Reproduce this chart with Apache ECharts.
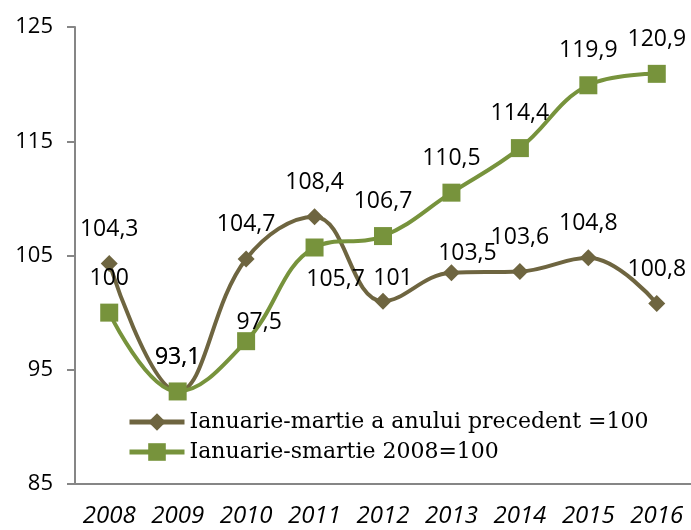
<!DOCTYPE html>
<html>
<head>
<meta charset="utf-8">
<script src="https://cdn.jsdelivr.net/npm/echarts@6/dist/echarts.min.js"></script>
<style>
html, body { margin: 0; padding: 0; background: #fff; }
#chart { width: 691px; height: 530px; }
</style>
</head>
<body>
<div id="chart"></div>
<script>
var years = ["2008", "2009", "2010", "2011", "2012", "2013", "2014", "2015", "2016"];
var prevYear = [104.3, 93.1, 104.7, 108.4, 101, 103.5, 103.6, 104.8, 100.8];
var base2008 = [100, 93.1, 97.5, 105.7, 106.7, 110.5, 114.4, 119.9, 120.9];
var yTicks = [85, 95, 105, 115, 125];

var prevName = "Ianuarie-martie a anului precedent =100";
var baseName = "Ianuarie-smartie 2008=100";

// label nudges, by index (layout only)
var prevShift = { 4: [10, 11], 5: [16, 15] };
var baseShift = { 2: [13, 16] };

function fmt(v) { return String(v).replace(".", ","); }

function buildData(values, shift, belowIdx) {
    return values.map(function (v, i) {
        var item = { value: v };
        if (i === belowIdx) {
            item.label = { position: "bottom", offset: [21, -3] };
        } else if (shift[i]) {
            item.label = { offset: shift[i] };
        }
        return item;
    });
}

var labelFont = { fontFamily: "Open Sans", fontSize: 23, color: "#000" };

var chart = echarts.init(document.getElementById("chart"));
chart.setOption({
    animation: false,
    grid: { left: 75, right: -3, top: 27, bottom: 46, containLabel: false },
    legend: {
        orient: "vertical",
        left: 127,
        top: 411,
        padding: 0,
        itemWidth: 55,
        itemHeight: 22,
        itemGap: 8,
        selectedMode: false,
        data: [
            { name: prevName, itemStyle: { color: "#6e6540" }, lineStyle: { color: "#6e6540", width: 5 } },
            { name: baseName, itemStyle: { color: "#77933c" }, lineStyle: { color: "#77933c", width: 5 } }
        ],
        textStyle: { fontFamily: "DejaVu Serif", fontSize: 22, color: "#000" }
    },
    xAxis: {
        type: "category",
        data: years,
        boundaryGap: true,
        axisLine: { lineStyle: { color: "#868686", width: 2 } },
        axisTick: { length: 8, lineStyle: { color: "#868686", width: 2 } },
        axisLabel: {
            interval: 0,
            hideOverlap: false,
            margin: 20,
            fontFamily: "Open Sans",
            fontStyle: "italic",
            fontSize: 24,
            color: "#000"
        }
    },
    yAxis: {
        type: "value",
        min: yTicks[0],
        max: yTicks[yTicks.length - 1],
        interval: 10,
        splitLine: { show: false },
        axisLine: { show: true, lineStyle: { color: "#868686", width: 2 } },
        axisTick: { show: true, length: 8, lineStyle: { color: "#868686", width: 2 } },
        axisLabel: {
            margin: 22,
            fontFamily: "Open Sans",
            fontSize: 22,
            color: "#000"
        }
    },
    series: [
        {
            name: prevName,
            type: "line",
            data: buildData(prevYear, prevShift, -1),
            smooth: 0.4,
            symbol: "diamond",
            symbolSize: 17,
            lineStyle: { color: "#6e6540", width: 4 },
            itemStyle: { color: "#6e6540" },
            label: Object.assign({
                show: true,
                position: "top",
                distance: 14,
                formatter: function (p) { return fmt(p.value); }
            }, labelFont)
        },
        {
            name: baseName,
            type: "line",
            data: buildData(base2008, baseShift, 3),
            smooth: 0.4,
            symbol: "rect",
            symbolSize: 18,
            lineStyle: { color: "#77933c", width: 4 },
            itemStyle: { color: "#77933c" },
            label: Object.assign({
                show: true,
                position: "top",
                distance: 14,
                formatter: function (p) { return fmt(p.value); }
            }, labelFont)
        }
    ]
});
</script>
</body>
</html>
